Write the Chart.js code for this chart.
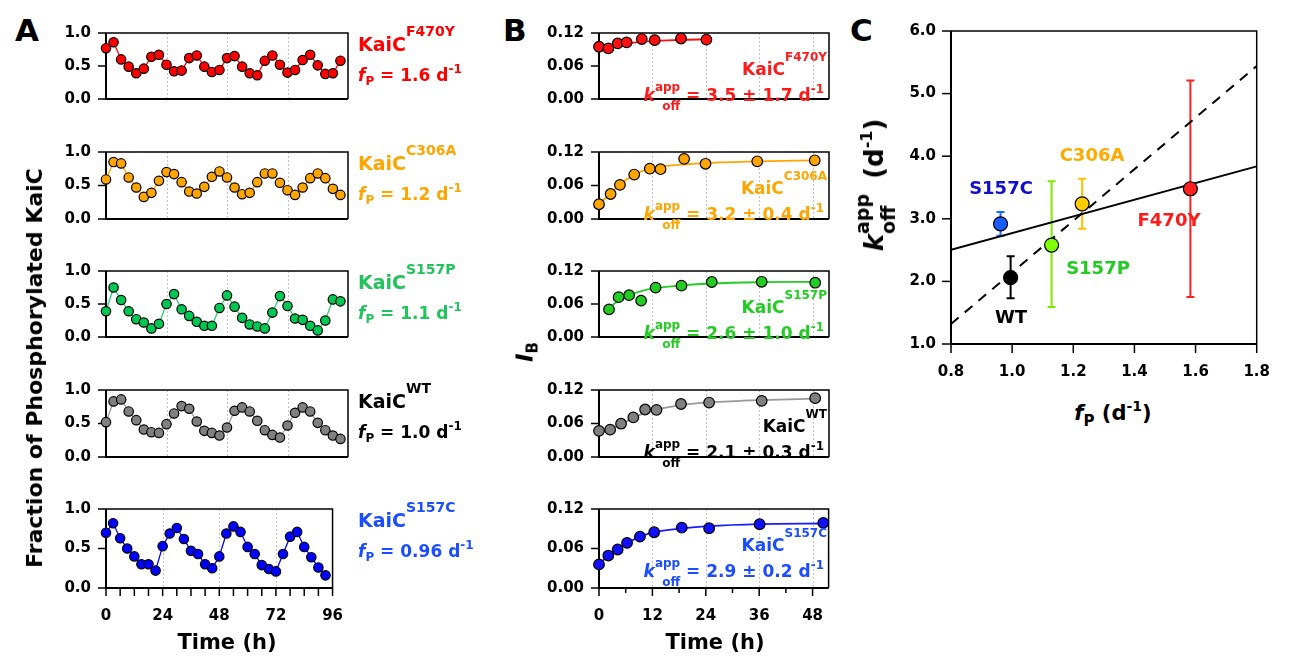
<!DOCTYPE html>
<html><head><meta charset="utf-8">
<script src="https://cdn.jsdelivr.net/npm/chart.js@4.4.0/dist/chart.umd.min.js"></script>
<style>
html,body{margin:0;padding:0;background:#fff;width:1291px;height:660px;overflow:hidden;}
body{position:relative;}
canvas{position:absolute;}
.t{position:absolute;font-family:'DejaVu Sans',sans-serif;font-weight:bold;white-space:nowrap;line-height:1;z-index:5;}
.rel{position:relative;}
</style></head><body>
<script>
// ---------------- DATA ----------------
const timeA = [0,3,6,9,12,15,18,21,24,27,30,33,36,39,42,45,48,51,54,57,60,63,66,69,72,75,78,81,84,87,90,93];
const fracF470Y = [0.77,0.86,0.60,0.49,0.39,0.46,0.64,0.67,0.52,0.42,0.43,0.62,0.66,0.49,0.41,0.44,0.62,0.65,0.49,0.39,0.36,0.58,0.66,0.52,0.40,0.44,0.59,0.67,0.51,0.38,0.39,0.58];
const fracC306A = [0.59,0.85,0.83,0.62,0.47,0.33,0.39,0.57,0.70,0.67,0.55,0.41,0.38,0.48,0.63,0.71,0.62,0.47,0.37,0.39,0.55,0.68,0.68,0.54,0.43,0.36,0.47,0.61,0.68,0.61,0.45,0.36];
const fracS157P = [0.39,0.75,0.56,0.39,0.27,0.22,0.13,0.20,0.50,0.65,0.42,0.32,0.23,0.17,0.17,0.44,0.63,0.46,0.29,0.19,0.16,0.13,0.37,0.62,0.47,0.28,0.26,0.17,0.10,0.25,0.57,0.54];
const fracWT    = [0.52,0.83,0.86,0.68,0.55,0.41,0.37,0.36,0.49,0.65,0.76,0.72,0.53,0.39,0.36,0.32,0.44,0.69,0.74,0.68,0.54,0.40,0.33,0.29,0.47,0.66,0.74,0.68,0.51,0.40,0.32,0.27];
const fracS157C = [0.70,0.82,0.63,0.50,0.40,0.30,0.30,0.22,0.53,0.69,0.76,0.62,0.47,0.43,0.30,0.25,0.40,0.69,0.78,0.71,0.52,0.43,0.29,0.24,0.21,0.43,0.65,0.71,0.52,0.39,0.26,0.16];

const tB_F470Y = [0,2.1,4.2,6.2,9.6,12.5,18.4,24.1];
const ib_F470Y = [0.095,0.092,0.101,0.103,0.109,0.107,0.110,0.108];
const fit_F470Y = [0.0955,0.0975,0.0995,0.1015,0.104,0.1055,0.1075,0.1085];
const tB_C306A = [0,2.6,4.7,7.9,11.4,13.8,19.1,23.9,35.5,48.4];
const ib_C306A = [0.0264,0.0448,0.0611,0.0796,0.0901,0.0892,0.1077,0.0989,0.1033,0.1051];
const fit_C306A = [0.0264,0.0457,0.062,0.079,0.0905,0.0936,0.0976,0.1002,0.1033,0.105];
const tB_S157P = [2.25,4.4,6.75,9.45,12.7,18.5,25.3,36.5,48.5];
const ib_S157P = [0.0502,0.0724,0.076,0.0662,0.0898,0.0933,0.1,0.1004,0.0987];
const fit_S157P = [0.0511,0.0671,0.0764,0.0836,0.0889,0.0938,0.0973,0.0996,0.1004];
const tB_WT = [0,2.5,4.95,7.7,10.35,12.9,18.4,24.7,36.5,48.5];
const ib_WT = [0.0468,0.049,0.0596,0.071,0.0851,0.0843,0.0949,0.0975,0.1006,0.1054];
const fit_WT = [0.0468,0.0507,0.0587,0.0701,0.0794,0.0851,0.0931,0.0975,0.1019,0.1046];
const tB_S157C = [0,2.1,4.2,6.3,9.2,12.4,18.6,24.75,36.1,50.4];
const ib_S157C = [0.0358,0.0493,0.0585,0.0685,0.0781,0.0847,0.0916,0.0908,0.0969,0.099];
const fit_S157C = [0.036,0.049,0.059,0.068,0.078,0.085,0.0905,0.094,0.097,0.098];

const mutantsC = ['S157C','WT','S157P','C306A','F470Y'];
const fP = [0.962,0.995,1.129,1.229,1.583];
const koff = [2.92,2.06,2.58,3.24,3.48];
const koffErrUp = [0.19,0.34,1.02,0.40,1.73];
const koffErrDown = [0.19,0.33,0.99,0.40,1.73];
const lineX = [0.8,1.8];
const solidFitY = [2.505,3.838];
const dashedFitY = [1.32,5.44];

const ticksA_x = [0,6,12,18,24,30,36,42,48,54,60,66,72,78,84,90,96];
const majorA_x = [0,24,48,72,96];
const ticksA_y = [0,0.5,1.0];
const ticksB_x = [0,6,12,18,24,30,36,42,48];
const majorB_x = [0,12,24,36,48];
const ticksB_y = [0,0.06,0.12];
const ticksC_x = [0.8,1.0,1.2,1.4,1.6,1.8];
const ticksC_y = [1,2,3,4,5,6];

// ---------------- LAYOUT ----------------
const FONT = "'DejaVu Sans', sans-serif";
const rowTop = [21,140,259,378,497];
const rowBot = [111,231,349,469,588];

const framePlugin = {
  id:'frame',
  beforeDatasetsDraw(chart, args, o){
    const {ctx, chartArea:a, scales:{x,y}} = chart;
    ctx.save();
    if (o.grid){
      ctx.strokeStyle='#c4c4c4'; ctx.lineWidth=1; ctx.setLineDash([2,2]);
      o.grid.forEach(v=>{const px=Math.round(x.getPixelForValue(v))+0.5;ctx.beginPath();ctx.moveTo(px,a.top);ctx.lineTo(px,a.bottom);ctx.stroke();});
      ctx.setLineDash([]);
    }
    ctx.strokeStyle='#000';
    ctx.lineWidth=1.5;
    ctx.beginPath();ctx.moveTo(a.left,a.top);ctx.lineTo(a.right,a.top);ctx.lineTo(a.right,a.bottom);ctx.stroke();
    ctx.lineWidth=2;
    ctx.beginPath();ctx.moveTo(a.left,a.top);ctx.lineTo(a.left,a.bottom);ctx.lineTo(a.right,a.bottom);ctx.stroke();
    ctx.lineWidth=1.5;
    (o.yTicks||[]).forEach(v=>{const py=y.getPixelForValue(v);ctx.beginPath();ctx.moveTo(a.left-o.tl,py);ctx.lineTo(a.left,py);ctx.stroke();});
    (o.xTicks||[]).forEach(v=>{const px=x.getPixelForValue(v);const L=(o.xMajor&&!o.xMajor.includes(v))?o.tlMinor:o.tl;ctx.beginPath();ctx.moveTo(px,a.bottom);ctx.lineTo(px,a.bottom+L);ctx.stroke();});
    ctx.restore();
  }
};

function mkCanvas(rect, m){
  const c=document.createElement('canvas');
  const w=rect.r-rect.l+m.L+m.R, h=rect.b-rect.t+m.T+m.B;
  c.width=w;c.height=h;c.style.width=w+'px';c.style.height=h+'px';
  c.style.left=(rect.l-m.L)+'px';c.style.top=(rect.t-m.T)+'px';
  document.body.appendChild(c);return c;
}
function baseOpts(m, xs, ys, frame){
  return {responsive:false,animation:false,events:[],
    layout:{padding:{left:0,top:m.T,right:m.R,bottom:0}},
    plugins:{legend:{display:false},tooltip:{enabled:false},frame:frame},
    scales:{x:xs,y:ys}};
}
const tickFont={family:FONT,size:15,weight:'bold'};

function axisX(min,max,ticks,major,show,m,fmt){
  return {type:'linear',min:min,max:max,
    afterBuildTicks:s=>{s.ticks=ticks.map(v=>({value:v}));},
    afterFit:s=>{s.height=m.B;},
    grid:{display:false,drawTicks:false},border:{display:false},
    ticks:{display:show,autoSkip:false,maxRotation:0,minRotation:0,padding:19,color:'#000',font:tickFont,
      callback:fmt||(v=>major.includes(v)?String(v):'')}};
}
function axisY(min,max,ticks,dec,m){
  return {type:'linear',min:min,max:max,
    afterBuildTicks:s=>{s.ticks=ticks.map(v=>({value:v}));},
    afterFit:s=>{s.width=m.L;},
    grid:{display:false,drawTicks:false},border:{display:false},
    ticks:{autoSkip:false,padding:15,color:'#000',font:tickFont,callback:v=>Number(v).toFixed(dec)}};
}

// Panel A
const seriesA=[
  {v:fracF470Y,fill:'#ff0000',line:'#ff0000'},
  {v:fracC306A,fill:'#ffa500',line:'#ffa500'},
  {v:fracS157P,fill:'#00c853',line:'#2ecc71'},
  {v:fracWT,fill:'#808080',line:'#999999'},
  {v:fracS157C,fill:'#0000ff',line:'#0000ff'}];
seriesA.forEach((s,i)=>{
  const last=i===4;
  const m={L:60,T:12,R:14,B:last?48:12};
  const rect={l:106,r:348,t:rowTop[i],b:rowBot[i]};
  new Chart(mkCanvas(rect,m),{type:'line',
    data:{datasets:[{data:timeA.map((t,j)=>({x:t,y:s.v[j]})),borderColor:s.line,borderWidth:1.3,
      pointBackgroundColor:s.fill,pointBorderColor:'#000',pointBorderWidth:1.2,pointRadius:4.7,tension:0,clip:false}]},
    options:baseOpts(m,axisX(0,96,ticksA_x,majorA_x,last,m),axisY(0,1,ticksA_y,1,m),
      {grid:[24,48,72],yTicks:ticksA_y,xTicks:last?ticksA_x:null,xMajor:majorA_x,tl:8,tlMinor:8}),
    plugins:[framePlugin]});
});

// Panel B
const seriesB=[
  {t:tB_F470Y,v:ib_F470Y,f:fit_F470Y,fill:'#ff1010',line:'#ff1010'},
  {t:tB_C306A,v:ib_C306A,f:fit_C306A,fill:'#ffa500',line:'#ffa500'},
  {t:tB_S157P,v:ib_S157P,f:fit_S157P,fill:'#22cc22',line:'#22cc22'},
  {t:tB_WT,v:ib_WT,f:fit_WT,fill:'#808080',line:'#999999'},
  {t:tB_S157C,v:ib_S157C,f:fit_S157C,fill:'#1010ff',line:'#1a1aff'}];
seriesB.forEach((s,i)=>{
  const last=i===4;
  const m={L:60,T:12,R:14,B:last?48:12};
  const rect={l:599,r:829,t:rowTop[i],b:rowBot[i]};
  new Chart(mkCanvas(rect,m),{type:'line',
    data:{datasets:[
      {data:s.t.map((t,j)=>({x:t,y:s.v[j]})),showLine:false,pointBackgroundColor:s.fill,pointBorderColor:'#000',pointBorderWidth:1.2,pointRadius:5.3,clip:false},
      {data:s.t.map((t,j)=>({x:t,y:s.f[j]})),borderColor:s.line,borderWidth:1.8,pointRadius:0,cubicInterpolationMode:'monotone',clip:false}]},
    options:baseOpts(m,axisX(0,51.6,ticksB_x,majorB_x,last,m),axisY(0,0.12,ticksB_y,2,m),
      {grid:[12,24,36,48],yTicks:ticksB_y,xTicks:last?ticksB_x:null,xMajor:majorB_x,tl:8,tlMinor:5}),
    plugins:[framePlugin]});
});

// Panel C
const colC=['#1a5cff','#000000','#80ff00','#ffcc00','#ff2020'];
const barC=['#1a6aff','#000000','#80e800','#ffc000','#ff2020'];
const errPlugin={id:'errbars',beforeDatasetsDraw(chart){
  const {ctx,scales:{x,y}}=chart;ctx.save();ctx.lineWidth=2;
  fP.forEach((xv,i)=>{const px=x.getPixelForValue(xv),top=y.getPixelForValue(koff[i]+koffErrUp[i]),bot=y.getPixelForValue(koff[i]-koffErrDown[i]);
    ctx.strokeStyle=barC[i];ctx.beginPath();ctx.moveTo(px,top);ctx.lineTo(px,bot);
    ctx.moveTo(px-4,top);ctx.lineTo(px+4,top);ctx.moveTo(px-4,bot);ctx.lineTo(px+4,bot);ctx.stroke();});
  ctx.restore();}};
{
  const m={L:70,T:14,R:14,B:45};
  const rect={l:951,r:1275,t:21,b:344};
  new Chart(mkCanvas(rect,m),{type:'line',
    data:{datasets:[
      {data:fP.map((xv,i)=>({x:xv,y:koff[i]})),showLine:false,pointBackgroundColor:colC,pointBorderColor:'#000',pointBorderWidth:1.2,pointRadius:7,clip:false},
      {data:lineX.map((xv,i)=>({x:xv,y:solidFitY[i]})),borderColor:'#000',borderWidth:2,pointRadius:0},
      {data:lineX.map((xv,i)=>({x:xv,y:dashedFitY[i]})),borderColor:'#000',borderWidth:2,borderDash:[10,8],pointRadius:0}]},
    options:baseOpts(m,
      axisX(0.8,1.8,ticksC_x,ticksC_x,true,m,v=>Number(v).toFixed(1)),
      axisY(1,6,ticksC_y,1,m),
      {yTicks:ticksC_y,xTicks:ticksC_x,tl:9,tlMinor:9}),
    plugins:[framePlugin,errPlugin]});
}

// ---------------- TEXT ----------------
function txt(html, css){const d=document.createElement('div');d.className='t';d.innerHTML=html;d.style.cssText+=css;document.body.appendChild(d);return d;}
const sup=(s,top,fs)=>`<span class="rel" style="font-size:${fs||12}px;top:${top}px">${s}</span>`;
const sub=(s,top,fs)=>`<span class="rel" style="font-size:${fs||12}px;top:${top}px">${s}</span>`;
const stack=(a,b,fs,lh,top,mr)=>`<span style="display:inline-flex;flex-direction:column;font-size:${fs||12}px;line-height:${lh||19}px;position:relative;top:${top||-10}px;vertical-align:baseline;margin-right:${mr||0}px">`+
  `<span>${a}</span><span>${b}</span></span>`;

// panel letters
txt('A','left:15px;top:15px;font-size:31px;');
txt('B','left:503px;top:15px;font-size:31px;');
txt('C','left:850px;top:15px;font-size:31px;');

// axis titles
txt('Fraction of Phosphorylated KaiC','left:35px;top:368px;font-size:22px;transform:translate(-50%,-50%) rotate(-90deg);');
txt('<i>I</i>'+sub('B',5,15),'left:525px;top:352px;font-size:23px;transform:translate(-50%,-50%) rotate(-90deg);');
txt('Time (h)','left:227px;top:642px;font-size:21px;transform:translate(-50%,-50%);');
txt('Time (h)','left:715px;top:642px;font-size:21px;transform:translate(-50%,-50%);');
txt('<i>f</i>'+sub('P',6,15)+' (d'+sup('-1',-9,14)+')','left:1113px;top:413px;font-size:21px;transform:translate(-50%,-50%);');
txt('<i>k</i>'+stack('app','off',19,26,-14,6)+' (d'+sup('-1',-11,16)+')','left:888px;top:185px;font-size:26px;transform:translate(-50%,-50%) rotate(-90deg);');

// Panel A labels
const labA=[['F470Y','1.6','#ff0000'],['C306A','1.2','#ffa500'],['S157P','1.1','#21c45a'],['WT','1.0','#000'],['S157C','0.96','#1a4dff']];
labA.forEach((l,i)=>{
  txt('KaiC'+sup(l[0],-15,14),`left:358px;top:${rowTop[i]+14}px;font-size:19px;color:${l[2]};`);
  txt('<i>f</i>'+sub('P',4)+' = '+l[1]+' d'+sup('-1',-8),`left:358px;top:${rowTop[i]+46}px;font-size:17px;color:${l[2]};`);
});
// Panel B labels
const labB=[['F470Y','3.5 ± 1.7','#ff1a1a'],['C306A','3.2 ± 0.4','#ffa500'],['S157P','2.6 ± 1.0','#22cc22'],['WT','2.1 ± 0.3','#000'],['S157C','2.9 ± 0.2','#1a4dff']];
labB.forEach((l,i)=>{
  txt('KaiC'+sup(l[0],-14),`right:${1291-827}px;top:${rowTop[i]+40}px;font-size:17px;text-align:right;color:${l[2]};`);
  txt('<i>k</i>'+stack('app','off')+' = '+l[1]+' d'+sup('-1',-8),`right:${1291-824}px;top:${rowTop[i]+66}px;font-size:17px;text-align:right;color:${l[2]};`);
});
// Panel C labels
const labC=[['S157C',1001,188,'#1010cc'],['WT',1011,317,'#000'],['S157P',1098,268,'#22cc22'],['C306A',1092,155,'#ffaa00'],['F470Y',1169,220,'#ff1a1a']];
labC.forEach(l=>txt(l[0],`left:${l[1]}px;top:${l[2]}px;font-size:18px;color:${l[3]};transform:translate(-50%,-50%);`));
</script>
</body></html>
